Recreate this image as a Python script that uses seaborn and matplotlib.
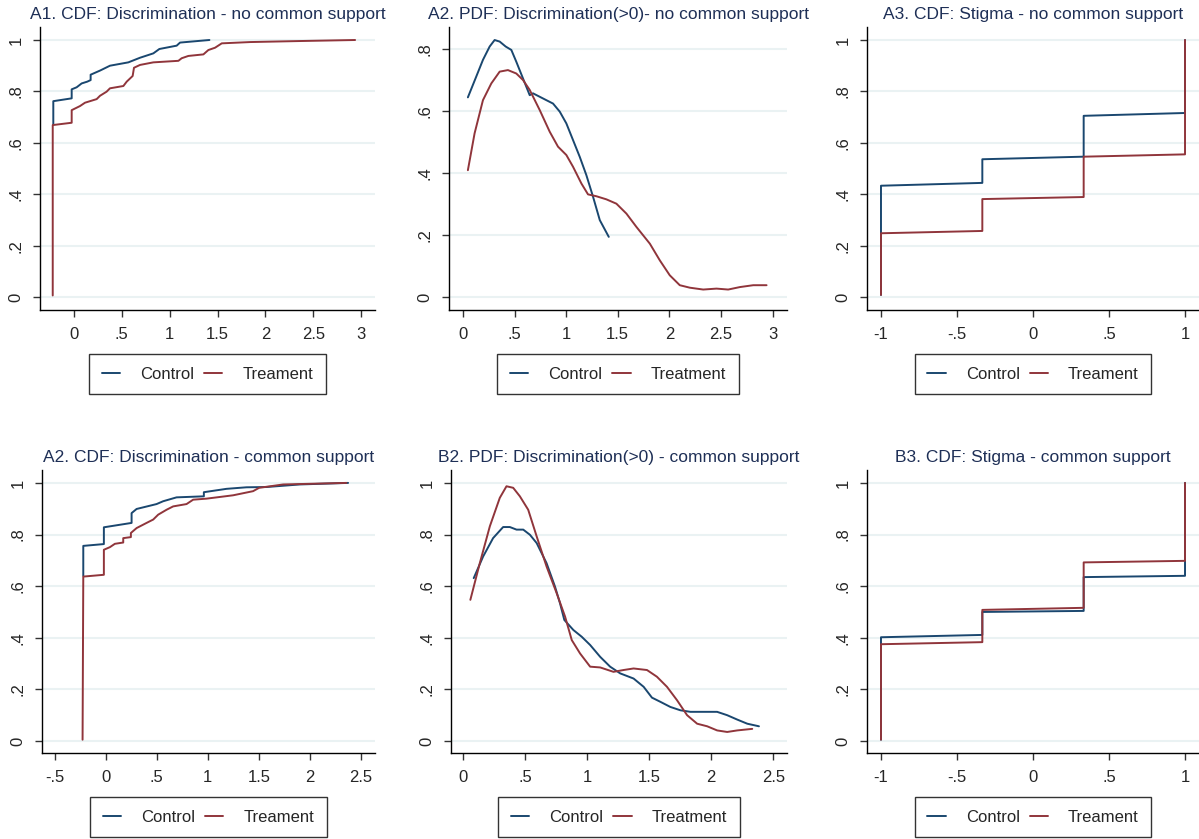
import numpy as np
import pandas as pd
import seaborn as sns
import matplotlib.pyplot as plt
from matplotlib.ticker import FuncFormatter, MultipleLocator

# ---- data ----
# A1 CDF discrimination, no common support
a1_ctrl_x = [-0.216, -0.216, -0.024, -0.024, 0.028, 0.08, 0.139, 0.174, 0.174, 0.272, 0.376, 0.568, 0.69,
             0.829, 0.892, 1.073, 1.108, 1.415]
a1_ctrl_y = [0.67, 0.762, 0.773, 0.808, 0.816, 0.831, 0.838, 0.844, 0.865, 0.881, 0.9, 0.913, 0.931,
             0.948, 0.965, 0.978, 0.99, 1.0]
a1_trt_x = [-0.222, -0.222, -0.024, -0.024, 0.063, 0.115, 0.237, 0.272, 0.341, 0.376, 0.516, 0.551, 0.613,
            0.627, 0.69, 0.829, 1.091, 1.125, 1.195, 1.352, 1.404, 1.474, 1.544, 1.84, 2.362, 2.937]
a1_trt_y = [0.006, 0.669, 0.678, 0.727, 0.743, 0.756, 0.770, 0.783, 0.799, 0.812, 0.821, 0.838, 0.860,
            0.892, 0.903, 0.913, 0.919, 0.929, 0.938, 0.944, 0.961, 0.970, 0.987, 0.992, 0.996, 1.0]

# A2 PDF discrimination (>0), no common support
a2_ctrl_x = [0.048, 0.129, 0.194, 0.259, 0.307, 0.356, 0.414, 0.469, 0.517, 0.582, 0.647, 0.679, 0.808,
             0.873, 0.938, 1.002, 1.067, 1.132, 1.196, 1.261, 1.326, 1.413]
a2_ctrl_y = [0.644, 0.711, 0.765, 0.808, 0.829, 0.824, 0.808, 0.797, 0.759, 0.705, 0.651, 0.657, 0.635,
             0.624, 0.598, 0.560, 0.506, 0.452, 0.393, 0.323, 0.248, 0.194]
a2_trt_x = [0.048, 0.113, 0.194, 0.275, 0.356, 0.436, 0.517, 0.582, 0.647, 0.744, 0.841, 0.921, 1.002,
            1.067, 1.148, 1.212, 1.293, 1.39, 1.487, 1.584, 1.681, 1.811, 1.908, 2.004, 2.101, 2.198,
            2.328, 2.457, 2.57, 2.684, 2.813, 2.942]
a2_trt_y = [0.409, 0.528, 0.635, 0.689, 0.727, 0.732, 0.721, 0.700, 0.668, 0.603, 0.533, 0.485, 0.458,
            0.420, 0.366, 0.331, 0.325, 0.315, 0.301, 0.269, 0.226, 0.172, 0.118, 0.070, 0.038, 0.030,
            0.024, 0.027, 0.024, 0.032, 0.038, 0.038]

# A3 CDF stigma, no common support
a3_ctrl_x = [-1, -1, -1/3, -1/3, 1/3, 1/3, 1, 1]
a3_ctrl_y = [0.008, 0.433, 0.444, 0.536, 0.546, 0.705, 0.716, 1.0]
a3_trt_x = [-1, -1, -1/3, -1/3, 1/3, 1/3, 1, 1]
a3_trt_y = [0.008, 0.248, 0.257, 0.381, 0.389, 0.546, 0.555, 1.0]

# A2 CDF discrimination, common support
b1_ctrl_x = [-0.222, -0.222, -0.02, -0.02, 0.252, 0.252, 0.301, 0.497, 0.562, 0.693, 0.961, 0.961,
             1.183, 1.379, 1.575, 1.902, 2.376]
b1_ctrl_y = [0.64, 0.756, 0.763, 0.828, 0.845, 0.883, 0.899, 0.918, 0.929, 0.944, 0.948, 0.964,
             0.977, 0.983, 0.984, 0.994, 1.0]
b1_trt_x = [-0.229, -0.222, -0.02, -0.02, 0.039, 0.088, 0.17, 0.17, 0.245, 0.245, 0.301, 0.399, 0.464,
            0.513, 0.595, 0.66, 0.791, 0.856, 0.987, 1.248, 1.444, 1.503, 1.739, 2.359]
b1_trt_y = [0.005, 0.637, 0.644, 0.741, 0.751, 0.764, 0.769, 0.786, 0.790, 0.806, 0.825, 0.845, 0.858,
            0.877, 0.896, 0.909, 0.918, 0.935, 0.939, 0.952, 0.968, 0.981, 0.994, 1.0]

# B2 PDF discrimination (>0), common support
b2_ctrl_x = [0.086, 0.162, 0.242, 0.323, 0.377, 0.431, 0.485, 0.539, 0.593, 0.673, 0.741, 0.781, 0.816,
             0.889, 0.956, 1.024, 1.105, 1.185, 1.266, 1.374, 1.455, 1.522, 1.589, 1.670, 1.751, 1.832,
             1.940, 2.047, 2.128, 2.209, 2.29, 2.384]
b2_ctrl_y = [0.631, 0.715, 0.786, 0.829, 0.829, 0.819, 0.819, 0.799, 0.767, 0.689, 0.598, 0.534, 0.469,
             0.430, 0.404, 0.372, 0.326, 0.288, 0.262, 0.242, 0.210, 0.168, 0.152, 0.132, 0.119, 0.113,
             0.113, 0.113, 0.100, 0.083, 0.067, 0.057]
b2_trt_x = [0.059, 0.135, 0.216, 0.296, 0.350, 0.404, 0.458, 0.525, 0.593, 0.673, 0.754, 0.822, 0.876,
            0.943, 1.024, 1.105, 1.212, 1.293, 1.374, 1.482, 1.562, 1.643, 1.724, 1.805, 1.886, 1.967,
            2.047, 2.128, 2.209, 2.33]
b2_trt_y = [0.547, 0.689, 0.832, 0.942, 0.987, 0.981, 0.948, 0.896, 0.793, 0.676, 0.573, 0.482, 0.391,
            0.339, 0.288, 0.285, 0.268, 0.275, 0.281, 0.275, 0.249, 0.210, 0.158, 0.100, 0.067, 0.057,
            0.041, 0.035, 0.041, 0.047]

# B3 CDF stigma, common support
b3_ctrl_x = [-1, -1, -1/3, -1/3, 1/3, 1/3, 1, 1]
b3_ctrl_y = [0.005, 0.402, 0.411, 0.500, 0.504, 0.635, 0.640, 1.0]
b3_trt_x = [-1, -1, -1/3, -1/3, 1/3, 1/3, 1, 1]
b3_trt_y = [0.005, 0.375, 0.383, 0.508, 0.516, 0.692, 0.698, 1.0]

titles = ["A1. CDF: Discrimination - no common support",
          "A2. PDF: Discrimination(>0)- no common support",
          "A3. CDF: Stigma - no common support",
          "A2. CDF: Discrimination - common support",
          "B2. PDF: Discrimination(>0) - common support",
          "B3. CDF: Stigma - common support"]
trt_labels = ["Treament", "Treatment", "Treament", "Treament", "Treatment", "Treament"]
ctrl_label = "Control"

# ---- style ----
sns.set_style("white")
plt.rcParams['font.family'] = ['Liberation Sans', 'DejaVu Sans']
navy = "#1a476f"
maroon = "#90353b"

def stata_fmt(v, pos):
    s = "%g" % round(v, 4)
    if s.startswith("0."):
        s = s[1:]
    elif s.startswith("-0."):
        s = "-" + s[2:]
    return s

W, H = 1199, 839
def rect(x0, x1, yt, yb):
    return [x0 / W, 1 - yb / H, (x1 - x0) / W, (yb - yt) / H]

panels = [
    (a1_ctrl_x, a1_ctrl_y, a1_trt_x, a1_trt_y, rect(40, 375, 27, 310), (-0.355, 3.145), (-0.0506, 1.0506), 0.5, 0.2),
    (a2_ctrl_x, a2_ctrl_y, a2_trt_x, a2_trt_y, rect(449, 787, 27, 310), (-0.135, 3.14), (-0.042, 0.871), 0.5, 0.2),
    (a3_ctrl_x, a3_ctrl_y, a3_trt_x, a3_trt_y, rect(867, 1199, 27, 310), (-1.092, 1.092), (-0.0506, 1.0506), 0.5, 0.2),
    (b1_ctrl_x, b1_ctrl_y, b1_trt_x, b1_trt_y, rect(42, 375, 470, 753), (-0.627, 2.64), (-0.0465, 1.05), 0.5, 0.2),
    (b2_ctrl_x, b2_ctrl_y, b2_trt_x, b2_trt_y, rect(451, 787, 470, 753), (-0.097, 2.61), (-0.0465, 1.05), 0.5, 0.2),
    (b3_ctrl_x, b3_ctrl_y, b3_trt_x, b3_trt_y, rect(867, 1199, 470, 753), (-1.092, 1.092), (-0.0465, 1.05), 0.5, 0.2),
]

fig = plt.figure(figsize=(11.99, 8.39), dpi=100)

for i, (cx, cy, tx, ty, r, xl, yl, xstep, ystep) in enumerate(panels):
    ax = fig.add_axes(r)
    ctrl = pd.DataFrame({"x": cx, "y": cy})
    trt = pd.DataFrame({"x": tx, "y": ty})
    sns.lineplot(data=ctrl, x="x", y="y", ax=ax, sort=False, estimator=None,
                 color=navy, lw=1.4, label=ctrl_label)
    sns.lineplot(data=trt, x="x", y="y", ax=ax, sort=False, estimator=None,
                 color=maroon, lw=1.4, label=trt_labels[i])
    ax.set_xlim(*xl)
    ax.set_ylim(*yl)
    ax.xaxis.set_major_locator(MultipleLocator(xstep))
    ax.yaxis.set_major_locator(MultipleLocator(ystep))
    ax.xaxis.set_major_formatter(FuncFormatter(stata_fmt))
    ax.yaxis.set_major_formatter(FuncFormatter(stata_fmt))
    ax.set_xlabel("")
    ax.set_ylabel("")
    ax.yaxis.grid(True, color="#eaf2f3", lw=1.5)
    ax.set_axisbelow(True)
    for s in ["top", "right"]:
        ax.spines[s].set_visible(False)
    for s in ["left", "bottom"]:
        ax.spines[s].set_color("black")
        ax.spines[s].set_linewidth(1.0)
    ax.tick_params(axis="both", direction="out", length=5, width=1, color="#333333",
                   labelsize=12, pad=7, left=True, bottom=True)
    for lab in ax.get_yticklabels():
        lab.set_rotation(90)
        lab.set_va("center")
    ax.set_title(titles[i], fontsize=12.5, color="#1e2f56", pad=6)
    leg = ax.legend(loc="upper center", bbox_to_anchor=(0.5, -0.127), ncol=2, frameon=True,
                    fontsize=12, handlelength=1.1, handletextpad=1.2, columnspacing=0.6,
                    borderpad=0.75, fancybox=False)
    leg.get_frame().set_edgecolor("black")
    leg.get_frame().set_linewidth(1.0)

plt.savefig("out.png", dpi=100)
